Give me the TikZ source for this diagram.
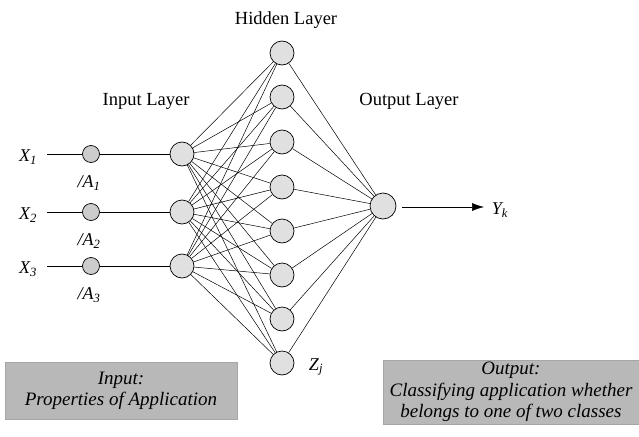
\documentclass[tikz,border=0pt]{standalone}
\usepackage{fontspec}
\setmainfont{Liberation Serif}
\usetikzlibrary{arrows.meta}
\begin{document}
\begin{tikzpicture}[x=1pt,y=-1pt,
  neuron/.style={circle,draw,line width=0.7pt,fill=black!12,minimum size=24pt,inner sep=0pt},
  smallneuron/.style={circle,draw,line width=0.7pt,fill=black!20,minimum size=17pt,inner sep=0pt},
  conn/.style={line width=0.5pt},
  lbl/.style={font=\fontsize{18.5}{21}\selectfont},
  var/.style={font=\fontsize{18}{20}\selectfont\itshape},
  infobox/.style={fill=black!28,draw=black!35,inner sep=0pt,align=center,font=\fontsize{19}{21.5}\selectfont\itshape}]
\useasboundingbox (0,0) rectangle (639,436);
% labels
\node[lbl] (hl) at (286,20) {Hidden Layer};
\node[lbl] (il) at (146,101) {Input Layer};
\node[lbl] (ol) at (409,101) {Output Layer};
% input variables
\foreach \i/\y in {1/154,2/212,3/266}{
  \node[var] (x\i) at (28,\y+3) {X\textsubscript{\i}};
  \node[smallneuron] (s\i) at (91,\y) {};
  \node[neuron] (in\i) at (182,\y) {};
  \node[var] (a\i) at (89,\y+29) {/A\textsubscript{\i}};
  \coordinate (xs\i) at (47,\y);
  \draw[conn] (xs\i) -- (s\i);
  \draw[conn] (s\i) -- (in\i);
}
% hidden
\foreach \j/\y in {1/53,2/97,3/142,4/187,5/231,6/275,7/319,8/363}{
  \node[neuron] (h\j) at (282,\y) {};
}
\node[var] (zj) at (316,367) {Z\textsubscript{j}};
% output
\node[neuron,minimum size=26pt] (out) at (383,206) {};
\foreach \i in {1,2,3}{
  \foreach \j in {1,...,8}{
    \draw[conn] (in\i) -- (h\j);
  }
}
\foreach \j in {1,...,8}{
  \draw[conn] (h\j) -- (out);
}
\node[var] (yk) at (500,210) {Y\textsubscript{k}};
\coordinate (ys) at (402,207);
\coordinate (ye) at (484,207);
\draw[conn,-{Latex[length=12pt,width=8pt]}] (ys) -- (ye);
% boxes
\node[infobox,minimum width=232pt,minimum height=57pt] (ibox) at (121,391) {Input:\\Properties of Application};
\node[infobox,minimum width=256pt,minimum height=64pt] (obox) at (511,392) {Output:\\Classifying application whether\\belongs to one of two classes};
\end{tikzpicture}
\end{document}
